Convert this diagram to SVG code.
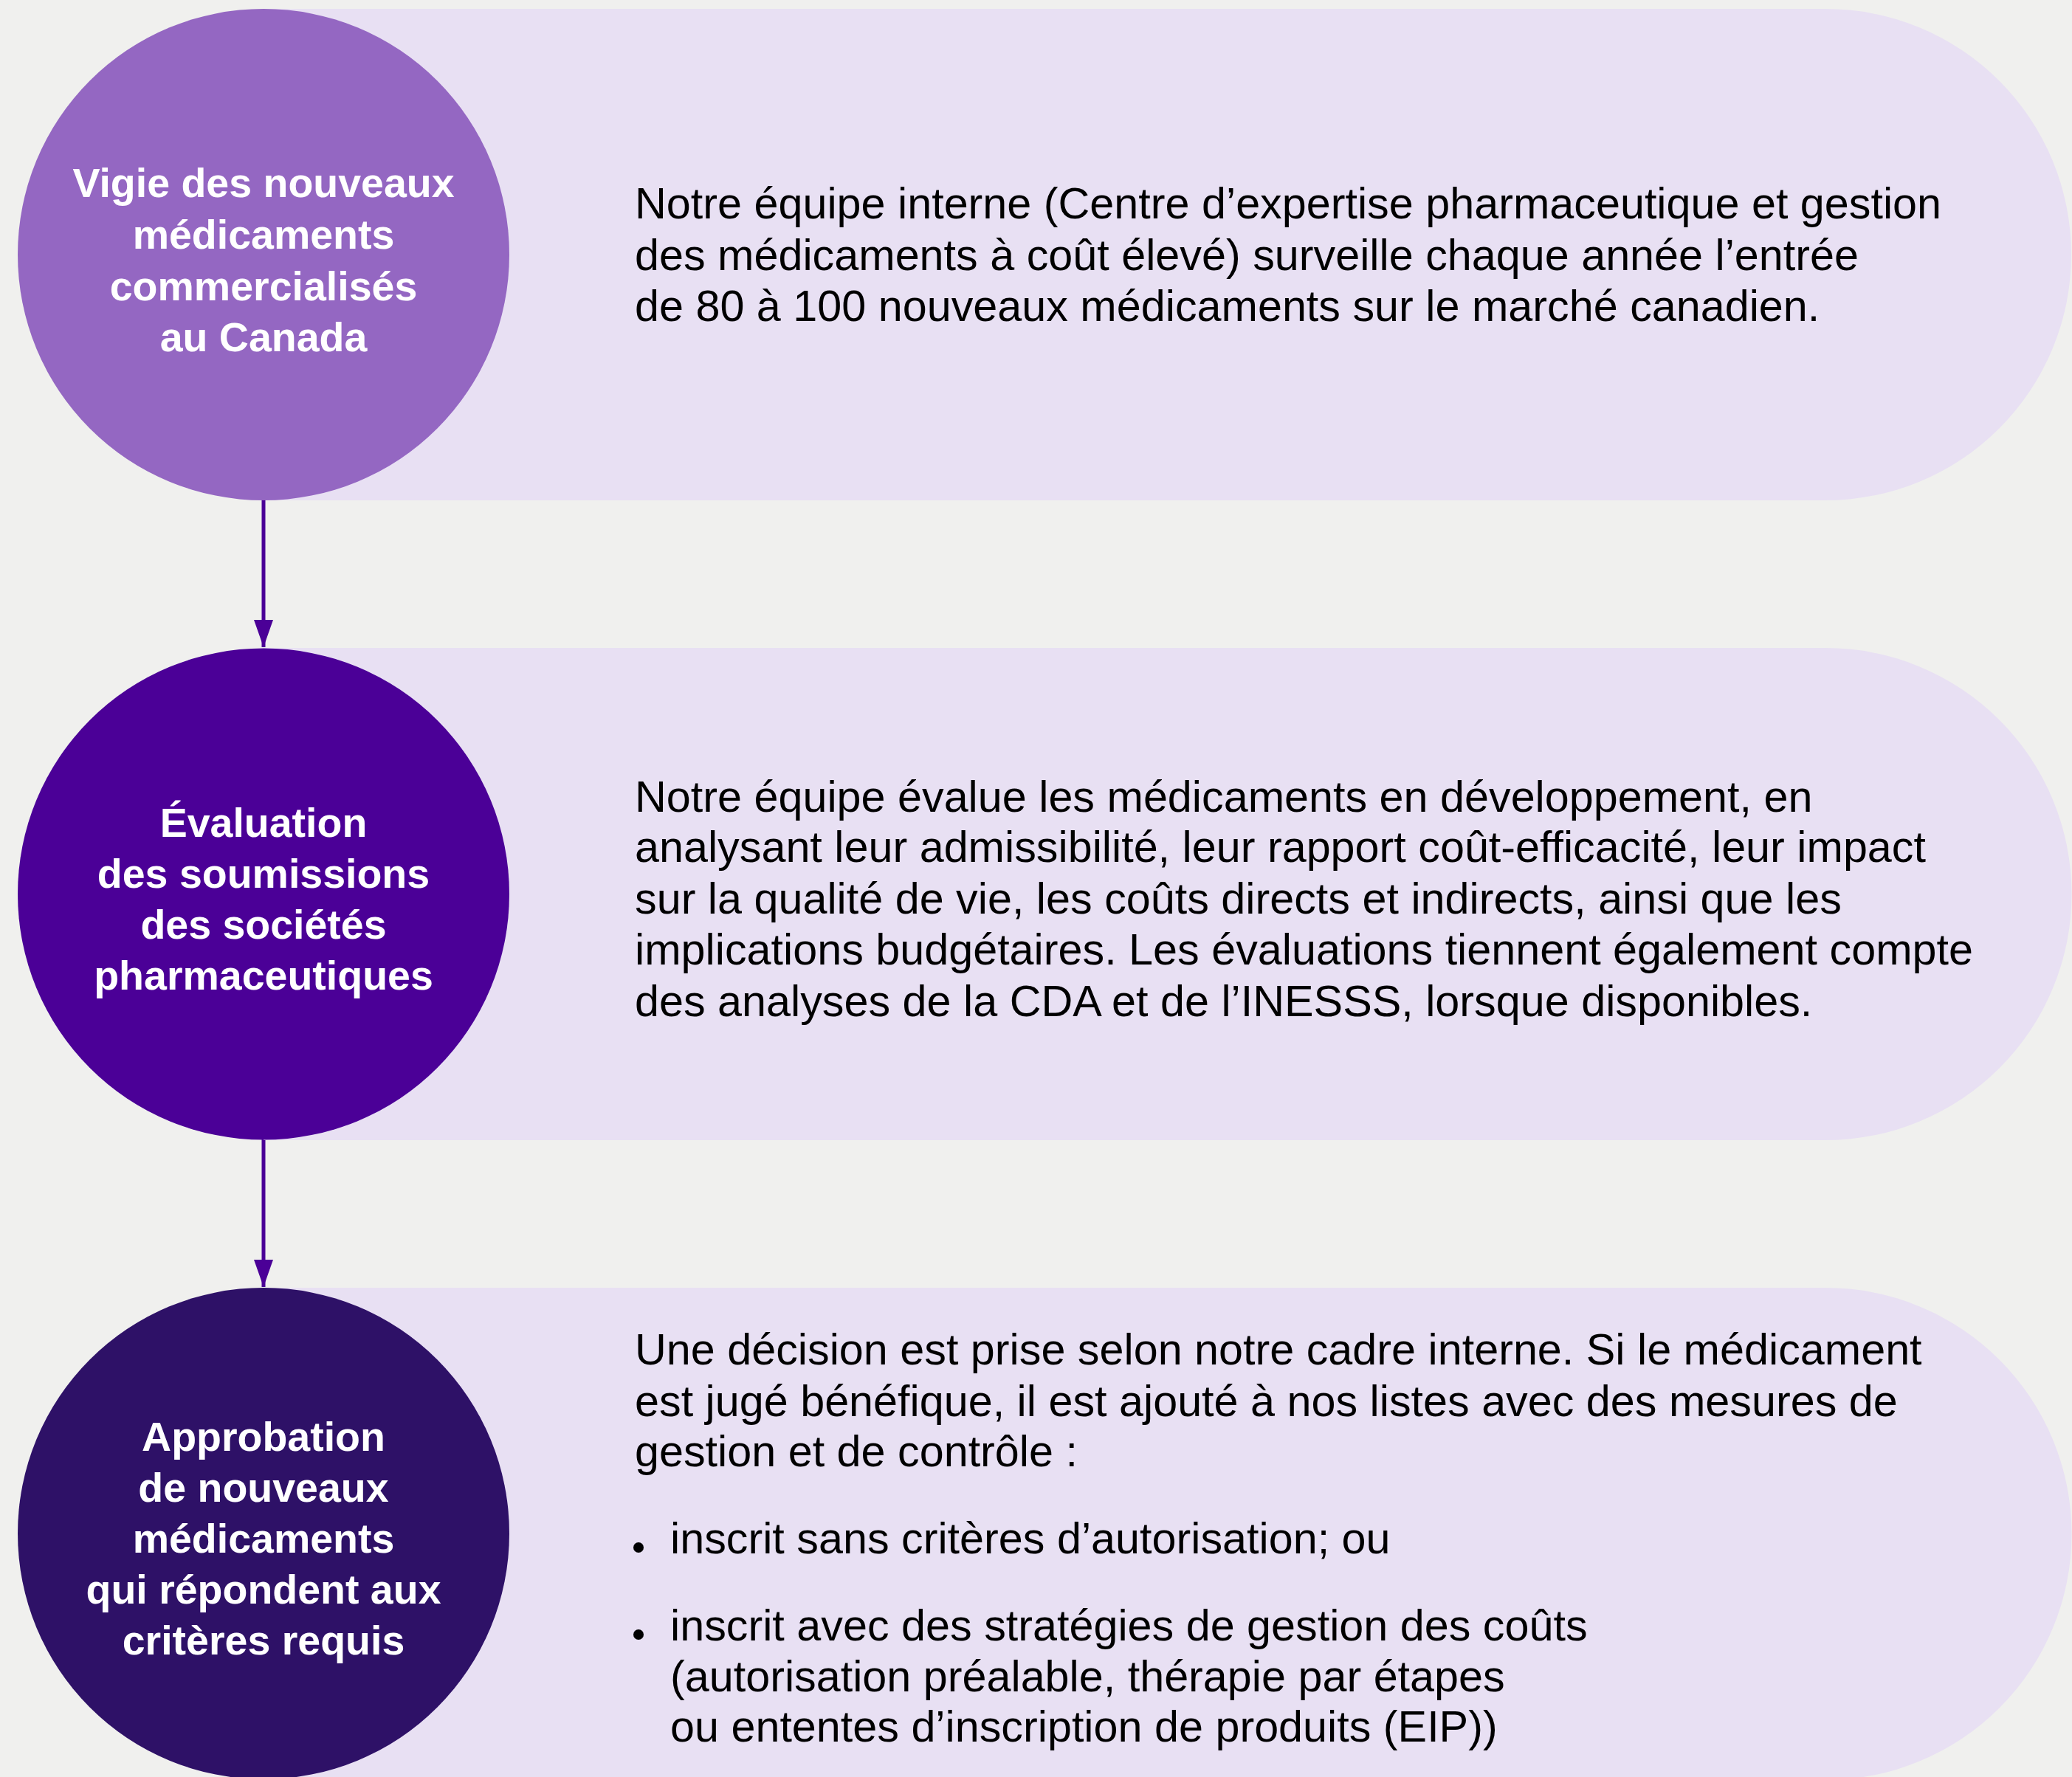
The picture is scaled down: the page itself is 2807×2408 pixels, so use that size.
<svg xmlns="http://www.w3.org/2000/svg" width="2807" height="2408" viewBox="0 0 2807 2408">
<style>
.bg{fill:#F0F0EE}
.pill{fill:#E8E0F3}
.lbl{font-family:"Liberation Sans",Arial,sans-serif;font-weight:bold;font-size:55.5px;fill:#FFFFFF;text-anchor:middle}
.body{font-family:"Liberation Sans",Arial,sans-serif;font-size:59.3px;fill:#000000}
.conn{stroke:#4B0097;stroke-width:5;fill:none}
</style>
<defs>
<marker id="arr" markerUnits="userSpaceOnUse" markerWidth="38" markerHeight="28" refX="37" refY="14" orient="auto" viewBox="0 0 38 28">
<polygon points="0,1 37,14 0,27" fill="#4B0097"/>
</marker>
</defs>
<rect class="bg" x="0" y="0" width="2807" height="2408"/>

<g id="connectors">
<line class="conn" x1="357" y1="676" x2="357" y2="877" marker-end="url(#arr)"/>
<line class="conn" x1="357" y1="1543" x2="357" y2="1744" marker-end="url(#arr)"/>
</g>

<g id="step1">
<path class="pill" d="M357,12 H2473 A333,333 0 0 1 2473,678 H357 Z"/>
<circle cx="357" cy="345" r="333" fill="#9467C2"/>
<text class="lbl" x="357" y="267">Vigie des nouveaux</text>
<text class="lbl" x="357" y="337">médicaments</text>
<text class="lbl" x="357" y="407">commercialisés</text>
<text class="lbl" x="357" y="476">au Canada</text>
<text class="body" x="860" y="296">Notre équipe interne (Centre d’expertise pharmaceutique et gestion</text>
<text class="body" x="860" y="366">des médicaments à coût élevé) surveille chaque année l’entrée</text>
<text class="body" x="860" y="435">de 80 à 100 nouveaux médicaments sur le marché canadien.</text>
</g>

<g id="step2">
<path class="pill" d="M357,878 H2473 A333.5,333.5 0 0 1 2473,1545 H357 Z"/>
<circle cx="357" cy="1211.5" r="333" fill="#4B0097"/>
<text class="lbl" x="357" y="1134">Évaluation</text>
<text class="lbl" x="357" y="1203">des soumissions</text>
<text class="lbl" x="357" y="1272">des sociétés</text>
<text class="lbl" x="357" y="1341">pharmaceutiques</text>
<text class="body" x="860" y="1100">Notre équipe évalue les médicaments en développement, en</text>
<text class="body" x="860" y="1168">analysant leur admissibilité, leur rapport coût-efficacité, leur impact</text>
<text class="body" x="860" y="1238">sur la qualité de vie, les coûts directs et indirects, ainsi que les</text>
<text class="body" x="860" y="1307">implications budgétaires. Les évaluations tiennent également compte</text>
<text class="body" x="860" y="1377">des analyses de la CDA et de l’INESSS, lorsque disponibles.</text>
</g>

<g id="step3">
<path class="pill" d="M357,1745 H2473 A333.5,333.5 0 0 1 2473,2412 H357 Z"/>
<circle cx="357" cy="2078" r="333" fill="#2E1167"/>
<text class="lbl" x="357" y="1966">Approbation</text>
<text class="lbl" x="357" y="2035">de nouveaux</text>
<text class="lbl" x="357" y="2104">médicaments</text>
<text class="lbl" x="357" y="2173">qui répondent aux</text>
<text class="lbl" x="357" y="2242">critères requis</text>
<text class="body" x="860" y="1849">Une décision est prise selon notre cadre interne. Si le médicament</text>
<text class="body" x="860" y="1919">est jugé bénéfique, il est ajouté à nos listes avec des mesures de</text>
<text class="body" x="860" y="1987">gestion et de contrôle :</text>
<circle cx="865" cy="2097" r="7" fill="#000000"/>
<text class="body" x="908" y="2105">inscrit sans critères d’autorisation; ou</text>
<circle cx="865" cy="2215" r="7" fill="#000000"/>
<text class="body" x="908" y="2223">inscrit avec des stratégies de gestion des coûts</text>
<text class="body" x="908" y="2292">(autorisation préalable, thérapie par étapes</text>
<text class="body" x="908" y="2360">ou ententes d’inscription de produits (EIP))</text>
</g>
</svg>
